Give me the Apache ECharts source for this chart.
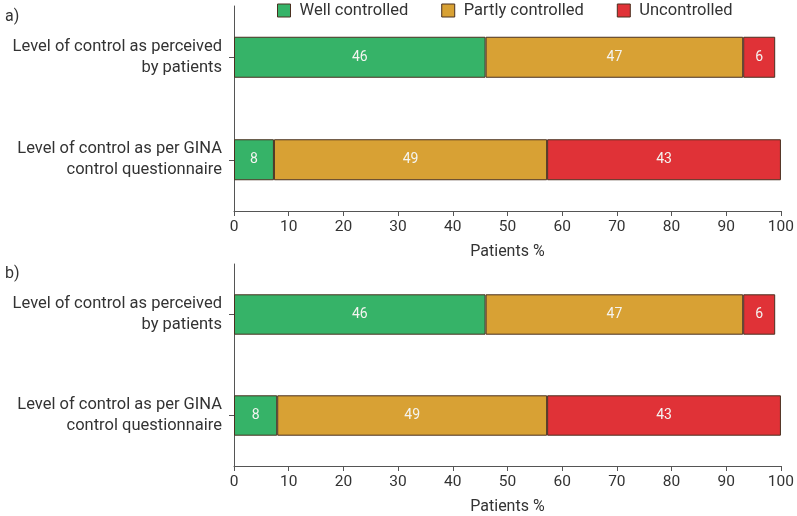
<!DOCTYPE html>
<html>
<head>
<meta charset="utf-8">
<script src="https://cdn.jsdelivr.net/npm/echarts@6/dist/echarts.min.js"></script>
<style>html,body{margin:0;padding:0;background:#fff}#c{width:797px;height:516px}</style>
</head>
<body>
<div id="c"></div>
<script>
var categories = ['Level of control as perceived\nby patients', 'Level of control as per GINA\ncontrol questionnaire'];
var seriesNames = ['Well controlled', 'Partly controlled', 'Uncontrolled'];
var xTicks = [0, 10, 20, 30, 40, 50, 60, 70, 80, 90, 100];
// panel a
var aWell = [46.0, 7.3];
var aPartly = [47.1, 49.95];
var aUncontrolled = [5.85, 42.75];
var aWellLabels = ['46', '8'];
var aPartlyLabels = ['47', '49'];
var aUncontrolledLabels = ['6', '43'];
// panel b
var bWell = [46.0, 7.9];
var bPartly = [47.1, 49.35];
var bUncontrolled = [5.85, 42.75];
var bWellLabels = ['46', '8'];
var bPartlyLabels = ['47', '49'];
var bUncontrolledLabels = ['6', '43'];

var colors = ['#36b368', '#d8a134', '#e03237'];
var FONT = 'Roboto';
var chart = echarts.init(document.getElementById('c'));

function xAxisFor(gi) {
  return {
    type: 'value', gridIndex: gi, min: 0, max: 100, interval: 10,
    name: 'Patients %', nameLocation: 'middle', nameGap: 33,
    nameTextStyle: { fontFamily: FONT, fontSize: 16, color: '#333' },
    axisLine: { show: true, lineStyle: { color: '#555', width: 1 } },
    axisTick: { show: true, length: 5, lineStyle: { color: '#555' } },
    axisLabel: { fontFamily: FONT, fontSize: 15.5, color: '#333', margin: 8,
      formatter: function (v) { return xTicks.indexOf(v) >= 0 ? String(v) : ''; } },
    splitLine: { show: false }
  };
}
function yAxisFor(gi) {
  return {
    type: 'category', gridIndex: gi, data: categories, inverse: true,
    axisLine: { show: true, lineStyle: { color: '#555', width: 1 } },
    axisTick: { show: true, alignWithLabel: true, length: 5, lineStyle: { color: '#555' } },
    axisLabel: { fontFamily: FONT, fontSize: 16.5, color: '#333', margin: 12, lineHeight: 21, align: 'right' }
  };
}
function makeSeries(name, data, labels, ci, gi) {
  return {
    name: name, type: 'bar', stack: 's' + gi, xAxisIndex: gi, yAxisIndex: gi,
    data: data, barWidth: '40%',
    itemStyle: { color: colors[ci], borderColor: '#4a3020', borderWidth: 1 },
    label: { show: true, position: 'inside', fontFamily: FONT, fontSize: 14, color: '#f4f4f0',
      formatter: function (p) { return labels[p.dataIndex]; } }
  };
}

chart.setOption({
  animation: false,
  textStyle: { fontFamily: FONT },
  title: [
    { text: 'a)', left: 0, top: 4, textStyle: { fontFamily: FONT, fontSize: 16, fontWeight: 'normal', color: '#333' } },
    { text: 'b)', left: 0, top: 261, textStyle: { fontFamily: FONT, fontSize: 16, fontWeight: 'normal', color: '#333' } }
  ],
  legend: {
    data: seriesNames, left: 272, top: -3, itemWidth: 13, itemHeight: 13, itemGap: 33,
    icon: 'rect',
    itemStyle: { borderColor: '#4a3020', borderWidth: 1 },
    textStyle: { fontFamily: FONT, fontSize: 16.5, color: '#333', padding: [0, 0, 0, 4] }
  },
  grid: [
    { left: 234, right: 14, top: 6, height: 205 },
    { left: 234, right: 14, top: 264, height: 205 }
  ],
  xAxis: [xAxisFor(0), xAxisFor(1)],
  yAxis: [yAxisFor(0), yAxisFor(1)],
  series: [
    makeSeries(seriesNames[0], aWell, aWellLabels, 0, 0),
    makeSeries(seriesNames[1], aPartly, aPartlyLabels, 1, 0),
    makeSeries(seriesNames[2], aUncontrolled, aUncontrolledLabels, 2, 0),
    makeSeries(seriesNames[0], bWell, bWellLabels, 0, 1),
    makeSeries(seriesNames[1], bPartly, bPartlyLabels, 1, 1),
    makeSeries(seriesNames[2], bUncontrolled, bUncontrolledLabels, 2, 1)
  ]
});
</script>
</body>
</html>
